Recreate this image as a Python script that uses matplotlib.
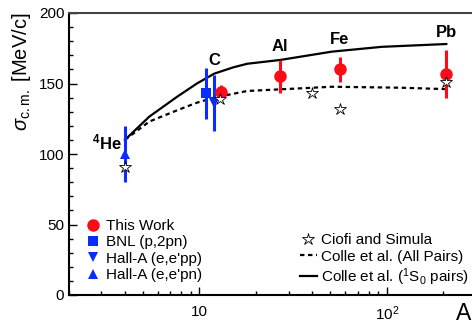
import matplotlib
matplotlib.use("Agg")
import matplotlib.pyplot as plt
from matplotlib.ticker import LogLocator, FixedLocator, MultipleLocator, FuncFormatter, NullFormatter

plt.rcParams['font.family'] = ['Liberation Sans', 'DejaVu Sans']
plt.rcParams['mathtext.fontset'] = 'custom'
plt.rcParams['mathtext.rm'] = 'Liberation Sans'
plt.rcParams['mathtext.it'] = 'Liberation Sans:italic'
plt.rcParams['mathtext.bf'] = 'Liberation Sans:bold'

# --- data -------------------------------------------------------------
# This work (C, Al, Fe, Pb); C drawn slightly right of A=12
this_work_A = [13, 27, 56, 208]
this_work_sig = [144, 155, 160, 157]
this_work_err = [5, 12, 9, 17]

# BNL (p,2pn), carbon, drawn slightly left of A=12
bnl_A = [10.9]
bnl_sig = [143]
bnl_err = [18]

# Hall-A (e,e'pp), carbon
halla_pp_A = [12]
halla_pp_sig = [136]
halla_pp_err = [20]

# Hall-A (e,e'pn), 4He
halla_pn_A = [4]
halla_pn_sig = [100]
halla_pn_err = [20]

# Ciofi and Simula
ciofi_A = [4, 12.8, 40, 56, 208]
ciofi_sig = [91, 139, 143.5, 132, 151]

# Colle et al. (all pairs)
colle_all_A = [4, 5.4, 7.6, 9.7, 12, 18, 35, 51, 120, 208]
colle_all_sig = [110, 123, 131, 136.4, 140, 144.7, 146.6, 147.7, 147, 146]

# Colle et al. (1S0 pairs)
colle_s0_A = [4, 5.4, 7.6, 9.7, 12, 15.2, 18, 27, 51, 94, 208]
colle_s0_sig = [110, 126.5, 140.6, 150, 157, 161.5, 164, 166.7, 172.6, 176, 178]

# nucleus labels
nuc_names = ['$\\mathbf{^{4}He}$', 'C', 'Al', 'Fe', 'Pb']
nuc_A = [3.85, 12, 27, 56, 208]
nuc_y = [108, 166.5, 176, 181.5, 186.5]
nuc_ha = ['right', 'center', 'center', 'center', 'center']

# --- figure -----------------------------------------------------------
W, H = 472, 326
fig = plt.figure(figsize=(W / 100, H / 100), dpi=100)
ax = fig.add_axes([68.5 / W, (H - 295) / H, 407.6 / W, 282 / H])

red = '#ff0a16'
blue = '#0a2cff'

# theory curves
l_all, = ax.plot(colle_all_A, colle_all_sig, color='black', lw=1.6,
                 linestyle=(0, (2, 1.6)), label='Colle et al. (All Pairs)')
l_s0, = ax.plot(colle_s0_A, colle_s0_sig, color='black', lw=1.6,
                label='Colle et al. ($^{1}$S$_{0}$ pairs)')

# error bars
ax.errorbar(bnl_A, bnl_sig, yerr=bnl_err, fmt='none', ecolor=blue, elinewidth=2.2, capsize=0)
ax.errorbar(halla_pp_A, halla_pp_sig, yerr=halla_pp_err, fmt='none', ecolor=blue, elinewidth=2.2, capsize=0)
ax.errorbar(halla_pn_A, halla_pn_sig, yerr=halla_pn_err, fmt='none', ecolor=blue, elinewidth=2.2, capsize=0)
ax.errorbar(this_work_A, this_work_sig, yerr=this_work_err, fmt='none', ecolor=red, elinewidth=2.2, capsize=0)

# markers
m_tw, = ax.plot(this_work_A, this_work_sig, 'o', color=red, ms=9, mew=0, label='This Work', zorder=5)
m_bnl, = ax.plot(bnl_A, bnl_sig, 's', color=blue, ms=6.5, mew=0, label='BNL (p,2pn)', zorder=5)
m_pp, = ax.plot(halla_pp_A, halla_pp_sig, 'v', color=blue, ms=7, mew=0, label="Hall-A (e,e'pp)", zorder=5)
m_pn, = ax.plot(halla_pn_A, halla_pn_sig, '^', color=blue, ms=7, mew=0, label="Hall-A (e,e'pn)", zorder=5)
m_cs, = ax.plot(ciofi_A, ciofi_sig, '*', mfc='white', mec='black', mew=0.6, ms=9,
                label='Ciofi and Simula', zorder=6)

for name, a, y, ha in zip(nuc_names, nuc_A, nuc_y, nuc_ha):
    ax.text(a, y, name, ha=ha, va='center', fontsize=12, fontweight='bold')

# axes
ax.set_xscale('log')
ax.set_xlim(2, 300)
ax.set_ylim(0, 200)
ax.xaxis.set_major_locator(FixedLocator([10, 100]))
ax.xaxis.set_major_formatter(FuncFormatter(lambda v, p: '10' if v < 50 else '$10^{2}$'))
ax.xaxis.set_minor_locator(LogLocator(base=10, subs=range(2, 10)))
ax.xaxis.set_minor_formatter(NullFormatter())
ax.yaxis.set_major_locator(MultipleLocator(50))
ax.yaxis.set_minor_locator(MultipleLocator(10))

for s in ['left', 'bottom', 'top', 'right']:
    ax.spines[s].set_linewidth(1.5)
ax.spines['top'].set_color('#444444')

ax.tick_params(which='both', direction='in', top=False, right=False, width=1.0, labelsize=11)
ax.tick_params(which='major', length=5.5)
ax.tick_params(axis='y', which='major', pad=3)
ax.tick_params(axis='x', which='major', pad=7)
ax.tick_params(which='minor', length=3)

ax.set_ylabel('$\\sigma_{\\rm c.m.}$ [MeV/c]', fontsize=14.5, loc='top', labelpad=4)
fig.text(456 / W, 1 - 325.5 / H, 'A', fontsize=16.5, ha='left', va='bottom')

# legends
leg1 = ax.legend(handles=[m_tw, m_bnl, m_pp, m_pn], loc='upper left',
                 bbox_to_anchor=(85 / W, 1 - 219 / H), bbox_transform=fig.transFigure,
                 frameon=False, fontsize=11, borderpad=0, borderaxespad=0,
                 handlelength=1.0, handletextpad=0.37, labelspacing=0.15)
ax.add_artist(leg1)
ax.legend(handles=[m_cs, l_all, l_s0], loc='upper left',
          bbox_to_anchor=(300 / W, 1 - 233 / H), bbox_transform=fig.transFigure,
          frameon=False, fontsize=11, borderpad=0, borderaxespad=0,
          handlelength=1.1, handletextpad=0.3, labelspacing=0.17)

fig.savefig('out.png', dpi=100)
